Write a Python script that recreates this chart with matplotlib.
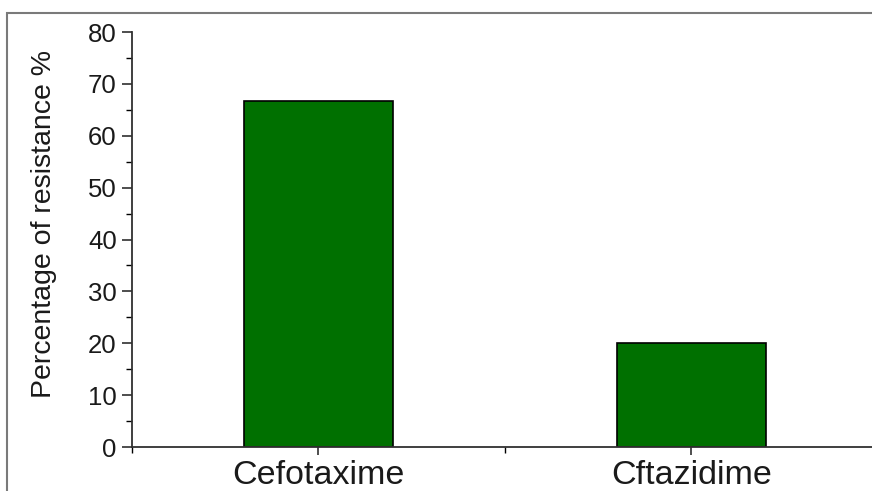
import matplotlib.pyplot as plt
from matplotlib.patches import Rectangle
from matplotlib.ticker import MultipleLocator

# data
drugs = ["Cefotaxime", "Cftazidime"]
resistance = [66.7, 20.0]

plt.rcParams["font.family"] = ["Liberation Sans", "DejaVu Sans"]

fig = plt.figure(figsize=(8.72, 4.91), dpi=100)
ax = fig.add_axes([0.1514, 0.0896, 0.8486, 0.8452])

ax.bar(range(len(drugs)), resistance, width=0.4, color="#007000",
       edgecolor="black", linewidth=1.2)

ax.set_xlim(-0.5, 1.485)
ax.set_ylim(0, 80)
ax.set_xticks(range(len(drugs)))
ax.set_xticklabels(drugs, fontsize=24.5)
ax.xaxis.set_minor_locator(MultipleLocator(0.5))
ax.yaxis.set_major_locator(MultipleLocator(10))
ax.yaxis.set_minor_locator(MultipleLocator(5))
ax.tick_params(axis="y", labelsize=18.5, length=7, width=1.2, colors="#303030", pad=4)
ax.tick_params(axis="y", which="minor", length=4, width=1)
ax.tick_params(axis="x", length=6, width=1.2, colors="#303030", pad=3)
ax.tick_params(axis="x", which="minor", length=4, width=1)
for lab in ax.get_xticklabels() + ax.get_yticklabels():
    lab.set_color("#1a1a1a")
ax.set_ylabel("Percentage of resistance %", fontsize=20.5, color="#1a1a1a")
ax.yaxis.set_label_coords(-0.101, 0.537)

for s in ["top", "right"]:
    ax.spines[s].set_visible(False)
for s in ["left", "bottom"]:
    ax.spines[s].set_linewidth(1.3)
    ax.spines[s].set_color("#303030")

# outer frame of the cropped picture
fig.patches.append(Rectangle((7 / 872, -0.1), 1.2, 1 - 13 / 491 + 0.1,
                             transform=fig.transFigure, fill=False,
                             edgecolor="#7a7a7a", linewidth=1.5))

fig.savefig("out.png", dpi=100)
